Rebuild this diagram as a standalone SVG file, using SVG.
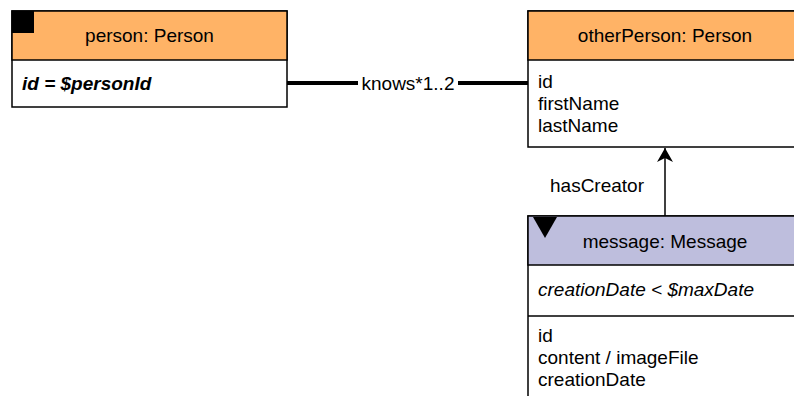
<svg xmlns="http://www.w3.org/2000/svg" width="794" height="396" viewBox="0 0 794 396">
<defs>
<style>
text{font-family:"Liberation Sans",Arial,sans-serif;font-size:19px;fill:#000}
.c{text-anchor:middle}
.box{stroke:#000;stroke-width:1.5;fill:#fff}
.op{fill:#FFB366;stroke:#000;stroke-width:1.5}
.msg{fill:#BEBEDD;stroke:#000;stroke-width:1.5}
.div{stroke:#000;stroke-width:1.5}
</style>
<marker id="arr" viewBox="0 0 14 16" refX="14" refY="8" markerWidth="14" markerHeight="16" markerUnits="userSpaceOnUse" orient="auto">
<path d="M0,0 L14,8 L0,16 L4,8 Z" fill="#000"/>
</marker>
</defs>
<rect width="794" height="396" fill="#fff"/>
<g id="connectors">
<line x1="287" y1="83" x2="358" y2="83" stroke="#000" stroke-width="4"/>
<line x1="458" y1="83" x2="528" y2="83" stroke="#000" stroke-width="4"/>
<text x="408" y="90" class="c">knows*1..2</text>
<line x1="665" y1="216" x2="665" y2="148" stroke="#000" stroke-width="1.5" marker-end="url(#arr)"/>
<text x="597" y="192" class="c">hasCreator</text>
</g>
<g id="person">
<rect x="12" y="11" width="275" height="96" class="box"/>
<rect x="12" y="11" width="275" height="49" class="op"/>
<rect x="12" y="11" width="22" height="22" fill="#000"/>
<text x="149.5" y="42" class="c">person: Person</text>
<text x="22" y="90" font-weight="bold" font-style="italic">id = $personId</text>
</g>
<g id="otherPerson">
<rect x="528" y="11" width="274" height="136" class="box"/>
<rect x="528" y="11" width="274" height="49" class="op"/>
<text x="665" y="42" class="c">otherPerson: Person</text>
<text x="538" y="88">id</text>
<text x="538" y="110">firstName</text>
<text x="538" y="132">lastName</text>
</g>
<g id="message">
<rect x="528" y="216" width="274" height="190" class="box"/>
<rect x="528" y="216" width="274" height="49" class="msg"/>
<path d="M533,217 L557,217 L545,238 Z" fill="#000"/>
<text x="665" y="248" class="c">message: Message</text>
<line x1="528" y1="316" x2="802" y2="316" class="div"/>
<text x="538" y="296" font-style="italic">creationDate &lt; $maxDate</text>
<text x="538" y="342">id</text>
<text x="538" y="364">content / imageFile</text>
<text x="538" y="386">creationDate</text>
</g>
</svg>
